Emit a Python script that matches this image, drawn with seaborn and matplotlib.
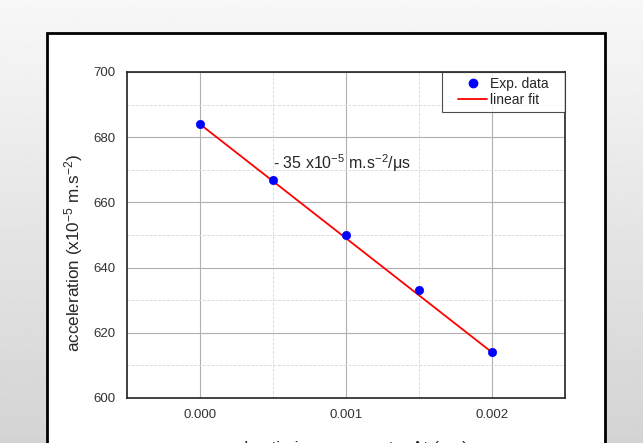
import numpy as np
import pandas as pd
import matplotlib
matplotlib.use("Agg")
import matplotlib.pyplot as plt
from matplotlib.patches import Rectangle
from matplotlib.lines import Line2D
from matplotlib.legend_handler import HandlerLine2D
from matplotlib.ticker import MultipleLocator
import seaborn as sns

# data
dt_ms = [0.0, 0.0005, 0.001, 0.0015, 0.002]
accel = [684, 667, 650, 633, 614]
fit_x = [0.0, 0.002]
fit_y = [684, 614]


class PaddedLine(HandlerLine2D):
    # legend handle with extra room on its left
    def get_xdata(self, legend, xdescent, ydescent, width, height, fontsize):
        pad = 0.8 * fontsize
        xd, xm = super().get_xdata(legend, xdescent, ydescent, width - pad, height, fontsize)
        return np.asarray(xd) + pad, np.asarray(xm) + pad


sns.set_style("white")
plt.rcParams['font.family'] = ['Liberation Sans', 'DejaVu Sans']
plt.rcParams['mathtext.fontset'] = 'custom'
plt.rcParams['mathtext.rm'] = 'Liberation Sans'
plt.rcParams['mathtext.it'] = 'Liberation Sans'

fig = plt.figure(figsize=(6.43, 4.43), dpi=100)

# grey gradient background
bg = fig.add_axes([0, 0, 1, 1], zorder=-10)
grad = np.linspace(0.97, 0.83, 256).reshape(-1, 1)
bg.imshow(grad, aspect='auto', cmap='gray', vmin=0, vmax=1, extent=[0, 1, 0, 1])
bg.axis('off')

# white framed box
W, H = 643, 443
fig.patches.append(Rectangle((47 / W, -0.05), (605 - 47) / W, (443 - 33) / H + 0.05,
                             transform=fig.transFigure, facecolor='white',
                             edgecolor='black', linewidth=2, zorder=-5))

ax = fig.add_axes([127 / W, 1 - 398 / H, (565 - 127) / W, (398 - 72) / H])
ax.set_facecolor('white')

df = pd.DataFrame({'dt': dt_ms, 'acc': accel})
fit = pd.DataFrame({'dt': fit_x, 'acc': fit_y})
sns.lineplot(data=fit, x='dt', y='acc', ax=ax, color='red', linewidth=1.3, zorder=3)
sns.scatterplot(data=df, x='dt', y='acc', ax=ax, color='blue', s=36,
                edgecolor='blue', zorder=4)

ax.set_xlim(-0.0005, 0.0025)
ax.set_ylim(600, 700)
ax.xaxis.set_major_locator(MultipleLocator(0.001))
ax.xaxis.set_minor_locator(MultipleLocator(0.0005))
ax.yaxis.set_major_locator(MultipleLocator(20))
ax.yaxis.set_minor_locator(MultipleLocator(10))
ax.set_xticks([0.0, 0.001, 0.002])
ax.set_xticklabels(['0.000', '0.001', '0.002'])
ax.grid(which='major', color='#b0b0b0', linewidth=0.8, linestyle='-')
ax.grid(which='minor', color='#d8d8d8', linewidth=0.6, linestyle='--')
ax.tick_params(axis='both', which='both', length=0, labelsize=9.5, colors='#333333', pad=8)
for sp in ax.spines.values():
    sp.set_color('#222222')
    sp.set_linewidth(1.2)

ax.set_xlabel('pulse timing asymmetry \u0394t (ms)', fontsize=12.5, labelpad=14)
ax.set_ylabel('acceleration (x10$^{-5}$ m.s$^{-2}$)', fontsize=12.3)
ax.yaxis.set_label_coords(-0.096, 0.445)

ax.text(0.0005, 672, '- 35 x10$^{-5}$ m.s$^{-2}$/\u03bcs', fontsize=11.5, ha='left', va='center')

h_exp = Line2D([], [], marker='o', linestyle='', color='blue', markersize=6)
h_fit = Line2D([], [], color='red', linewidth=1.3)
leg = ax.legend([h_exp, h_fit], ['Exp. data   ', 'linear fit'],
                loc='upper right', fontsize=10, frameon=True, fancybox=False,
                borderaxespad=0, handlelength=2.9, handletextpad=0.2,
                labelspacing=0.15, borderpad=0.35,
                handler_map={Line2D: PaddedLine()})
leg.get_frame().set_edgecolor('#222222')
leg.get_frame().set_linewidth(0.8)

fig.savefig('out.png', dpi=100)
